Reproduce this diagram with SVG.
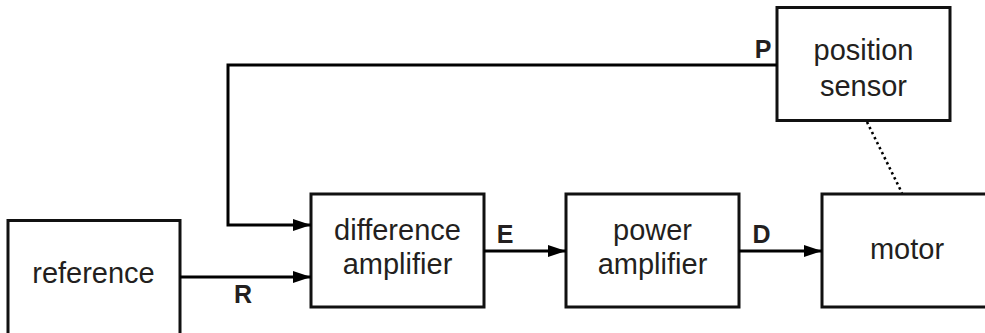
<svg xmlns="http://www.w3.org/2000/svg" width="985" height="333" viewBox="0 0 985 333">
<style>
.box{fill:#fff;stroke:#111;stroke-width:3}
.lbl{font-family:"Liberation Sans",Arial,Helvetica,sans-serif;font-size:29px;fill:#231f20;text-anchor:middle}
.sig{font-family:"Liberation Sans",Arial,Helvetica,sans-serif;font-size:25px;font-weight:bold;fill:#231f20;text-anchor:middle}
.wire{fill:none;stroke:#000;stroke-width:3}
.dot{fill:none;stroke:#000;stroke-width:2.6;stroke-dasharray:2.4 3.2}
</style>
<defs>
<marker id="arr" markerUnits="userSpaceOnUse" markerWidth="20" markerHeight="14" refX="18" refY="6" orient="auto">
<path d="M0,0 L18,6 L0,12 Z" fill="#000"/>
</marker>
</defs>
<g id="reference"><rect class="box" x="8" y="220.5" width="172" height="130"/><text class="lbl" x="93.5" y="283">reference</text></g>
<g id="difference-amplifier"><rect class="box" x="311" y="194" width="173" height="113"/><text class="lbl" x="397.5" y="240">difference</text><text class="lbl" x="397.5" y="274">amplifier</text></g>
<g id="power-amplifier"><rect class="box" x="566" y="194" width="173" height="113"/><text class="lbl" x="652.5" y="240">power</text><text class="lbl" x="652.5" y="274">amplifier</text></g>
<g id="motor"><rect class="box" x="822" y="194" width="185" height="113"/><text class="lbl" x="907" y="259">motor</text></g>
<g id="position-sensor"><rect class="box" x="777" y="7.5" width="173" height="113"/><text class="lbl" x="863.5" y="60">position</text><text class="lbl" x="863.5" y="96">sensor</text></g>
<g id="connectors">
<path class="wire" d="M777,65 H228 V225 H311" marker-end="url(#arr)"/>
<path class="wire" d="M180,277 H311" marker-end="url(#arr)"/>
<path class="wire" d="M484,251 H566" marker-end="url(#arr)"/>
<path class="wire" d="M739,251 H822" marker-end="url(#arr)"/>
<path class="dot" d="M867,122 L902,193"/>
</g>
<g id="labels">
<text class="sig" x="763" y="58">P</text>
<text class="sig" x="243" y="303">R</text>
<text class="sig" x="505" y="243">E</text>
<text class="sig" x="761.5" y="243">D</text>
</g>
</svg>
